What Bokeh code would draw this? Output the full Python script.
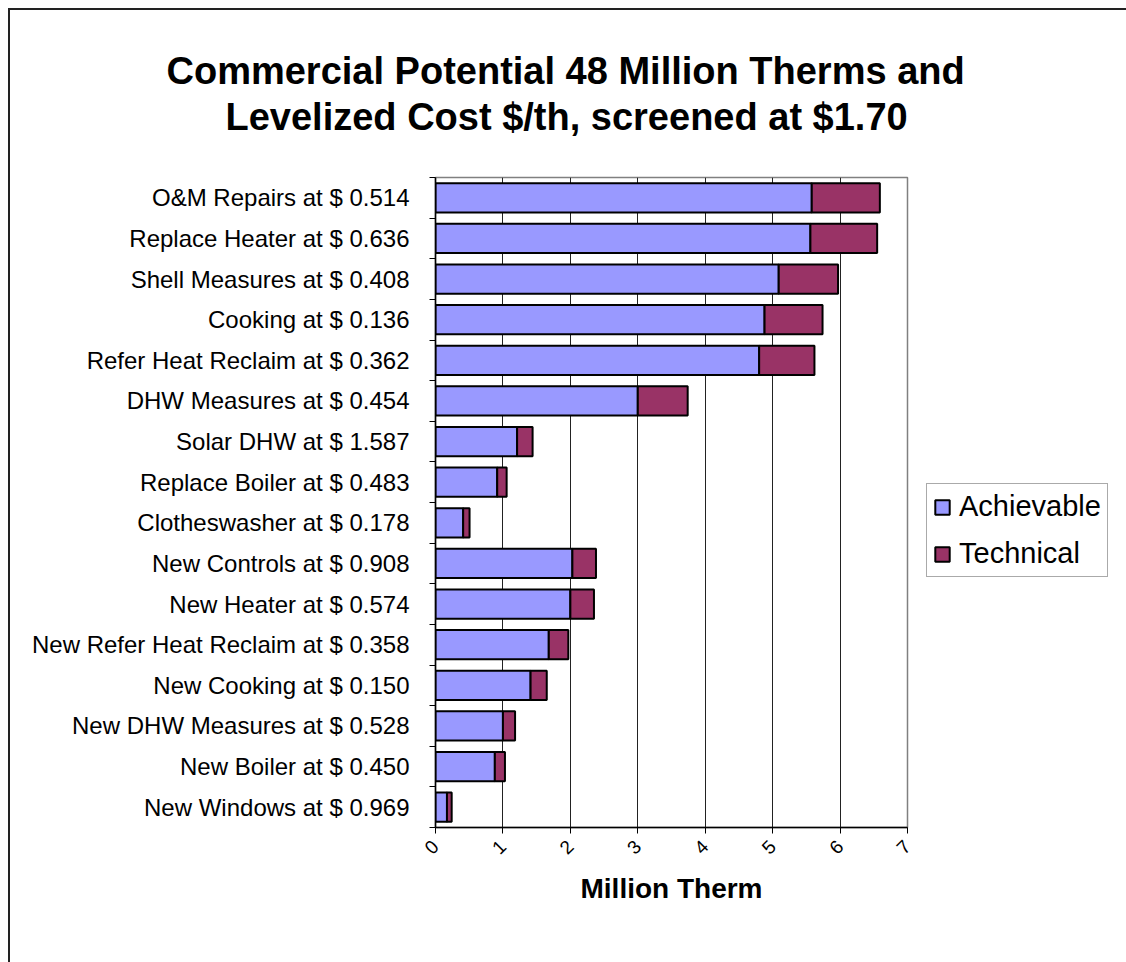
from bokeh.plotting import figure
from bokeh.models import Range1d, FixedTicker, Title, Legend, LegendItem
from bokeh.embed import file_html
from bokeh.resources import INLINE
import math

labels = [
    "O&M Repairs at $ 0.514",
    "Replace Heater at $ 0.636",
    "Shell Measures at $ 0.408",
    "Cooking at $ 0.136",
    "Refer Heat Reclaim at $ 0.362",
    "DHW Measures at $ 0.454",
    "Solar DHW at $ 1.587",
    "Replace Boiler at $ 0.483",
    "Clotheswasher at $ 0.178",
    "New Controls at $ 0.908",
    "New Heater at $ 0.574",
    "New Refer Heat Reclaim at $ 0.358",
    "New Cooking at $ 0.150",
    "New DHW Measures at $ 0.528",
    "New Boiler at $ 0.450",
    "New Windows at $ 0.969",
]
achievable = [5.58, 5.56, 5.09, 4.88, 4.80, 3.00, 1.21, 0.915, 0.41,
              2.03, 2.00, 1.68, 1.41, 1.00, 0.88, 0.17]
technical = [1.01, 0.99, 0.88, 0.86, 0.82, 0.74, 0.23, 0.14, 0.095,
             0.35, 0.35, 0.29, 0.24, 0.18, 0.15, 0.07]
x_ticks = [0, 1, 2, 3, 4, 5, 6, 7]

n = len(labels)
ypos = [n - i for i in range(n)]
totals = [a + t for a, t in zip(achievable, technical)]

FONT = "Liberation Sans"

p = figure(frame_width=472, frame_height=650, output_backend="svg", toolbar_location=None,
           x_range=Range1d(0, 7), y_range=Range1d(0.5, n + 0.5),
           min_border_left=425, min_border_right=219, min_border_top=167,
           min_border_bottom=135, title=None)
p.styles = {"margin-left": "8px", "margin-top": "8px",
            "border-left": "2px solid #222", "border-top": "2px solid #222"}

r1 = p.hbar(y=ypos, left=0, right=achievable, height=0.72,
            fill_color="#9999FF", line_color="black", line_width=2)
r2 = p.hbar(y=ypos, left=achievable, right=totals, height=0.72,
            fill_color="#993366", line_color="black", line_width=2)

# Axes
xa = p.xaxis[0]
xa.ticker = FixedTicker(ticks=x_ticks)
xa.major_label_orientation = math.pi / 4
xa.major_label_text_font = FONT
xa.major_label_text_font_size = "19px"
xa.major_label_text_color = "black"
xa.major_label_standoff = 10
xa.major_tick_out = 6
xa.major_tick_in = 0
xa.minor_tick_out = 0
xa.axis_line_color = "black"
xa.axis_line_width = 1.5
xa.axis_label = "Million Therm"
xa.axis_label_text_font = FONT
xa.axis_label_text_font_style = "bold"
xa.axis_label_text_font_size = "28px"
xa.axis_label_text_color = "black"
xa.axis_label_standoff = 10

ya = p.yaxis[0]
ya.ticker = FixedTicker(ticks=ypos, minor_ticks=[k + 0.5 for k in range(n + 1)])
ya.major_label_overrides = {y: lab for y, lab in zip(ypos, labels)}
ya.major_label_text_font = FONT
ya.major_label_text_font_size = "24px"
ya.major_label_text_color = "black"
ya.major_label_standoff = 20
ya.major_tick_out = 0
ya.major_tick_in = 0
ya.minor_tick_out = 6
ya.minor_tick_in = 0
ya.minor_tick_line_color = "black"
ya.axis_line_color = "black"
ya.axis_line_width = 1.5

p.xgrid.grid_line_color = "#222222"
p.xgrid.grid_line_width = 1
p.ygrid.grid_line_color = None
p.outline_line_color = "#808080"
p.outline_line_width = 1.5

# Titles, stacked upward from the frame: spacer, second line, first line
p.add_layout(Title(text=" ", text_font_size="1px", standoff=37), "above")
p.add_layout(Title(text="Levelized Cost $/th, screened at $1.70", align="left",
                   offset=-210, text_font=FONT, text_font_style="bold",
                   text_color="black",
                   text_font_size="38px", standoff=0), "above")
p.add_layout(Title(text="Commercial Potential 48 Million Therms and", align="left",
                   offset=-269, text_font=FONT, text_font_style="bold",
                   text_color="black",
                   text_font_size="38px", standoff=4), "above")

legend = Legend(items=[LegendItem(label="Achievable", renderers=[r1]),
                       LegendItem(label="Technical", renderers=[r2])],
                location=(19, 250))
legend.label_text_font = FONT
legend.label_text_font_size = "29px"
legend.label_text_color = "black"
legend.glyph_width = 18
legend.glyph_height = 18
legend.spacing = 14
legend.padding = 6
legend.margin = 0
legend.label_standoff = 8
legend.border_line_color = "#555555"
legend.border_line_width = 1
legend.background_fill_alpha = 1
p.add_layout(legend, "right")

open("out.html", "w").write(file_html(p, INLINE))
